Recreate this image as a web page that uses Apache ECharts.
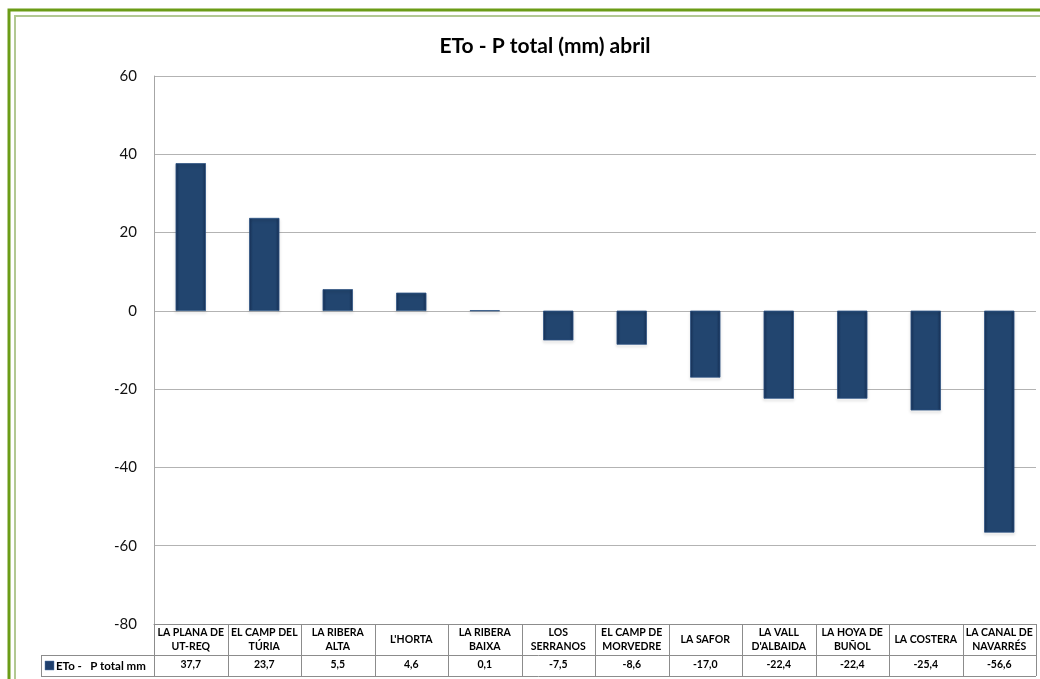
<!DOCTYPE html>
<html>
<head>
<meta charset="utf-8">
<script src="https://cdn.jsdelivr.net/npm/echarts@6/dist/echarts.min.js"></script>
<style>
  html, body { margin: 0; padding: 0; background: #fff; }
  #grafico { width: 1040px; height: 679px; }
</style>
</head>
<body>
<div id="grafico"></div>
<script>
// comarcas (texto de la tabla, con salto de línea como en el original)
const comarcas = [
    'LA PLANA DE\nUT-REQ', 'EL CAMP DEL\nTÚRIA', 'LA RIBERA\nALTA', "L'HORTA",
    'LA RIBERA\nBAIXA', 'LOS\nSERRANOS', 'EL CAMP DE\nMORVEDRE', 'LA SAFOR',
    'LA VALL\nD\'ALBAIDA', 'LA HOYA DE\nBUÑOL', 'LA COSTERA', 'LA CANAL DE\nNAVARRÉS'
];
const valores = [37.7, 23.7, 5.5, 4.6, 0.1, -7.5, -8.6, -17.0, -22.4, -22.4, -25.4, -56.6];
const nombreSerie = 'ETo -   P total mm';
const ticksY = [-80, -60, -40, -20, 0, 20, 40, 60];

const fuente = 'Lato, "Open Sans", sans-serif';
const colorBarra = '#1f3f6c';
const colorTabla = '#8c8c8c';

const formato = v => v.toFixed(1).replace('.', ',');

const chart = echarts.init(document.getElementById('grafico'));

chart.setOption({
    animation: false,
    title: {
        text: 'ETo - P total (mm) abril',
        left: 540, top: 31, textAlign: 'center',
        textStyle: { fontFamily: fuente, fontSize: 21, fontWeight: 'bold', color: '#000' }
    },
    grid: { left: 154, right: 4, top: 76, bottom: 55 },
    xAxis: [{
        type: 'category',
        data: comarcas,
        position: 'bottom',
        axisLine: { onZero: false, lineStyle: { color: colorTabla, width: 1 } },
        axisTick: { show: false },
        axisLabel: {
            interval: 0, margin: 16, verticalAlign: 'middle',
            fontFamily: fuente, fontSize: 10.5, fontWeight: 'bold', color: '#000', lineHeight: 14
        }
    }, {
        type: 'category',
        data: valores.map(formato),
        position: 'bottom',
        offset: 31,
        axisLine: { show: false },
        axisTick: { show: false },
        axisLabel: {
            interval: 0, margin: 10, verticalAlign: 'middle',
            fontFamily: fuente, fontSize: 10.5, fontWeight: 'bold', color: '#000'
        }
    }],
    yAxis: {
        type: 'value',
        min: ticksY[0], max: ticksY[ticksY.length - 1], interval: 20,
        axisLine: { show: true, lineStyle: { color: '#a6a6a6' } },
        axisTick: { show: false },
        axisLabel: { margin: 17, fontFamily: fuente, fontSize: 15, color: '#111' },
        splitLine: { lineStyle: { color: '#b3b3b3', width: 1 } }
    },
    series: [{
        name: nombreSerie,
        type: 'bar',
        xAxisIndex: 0,
        data: valores,
        barWidth: 30,
        itemStyle: {
            color: {
                type: 'linear', x: 0, y: 0, x2: 1, y2: 0,
                colorStops: [
                    { offset: 0, color: '#17335a' },
                    { offset: 0.12, color: '#22456f' },
                    { offset: 0.88, color: '#22456f' },
                    { offset: 1, color: '#17335a' }
                ]
            },
            borderColor: '#2d5282',
            borderWidth: 0.5,
            shadowColor: 'rgba(0,0,0,0.35)',
            shadowBlur: 3,
            shadowOffsetY: 2
        }
    }]
});

// tabla de datos y marco verde
function dibujarTabla() {
    const h = chart.getHeight();
    const yCat = h - 55;
    const yVal = yCat + 31;
    const yFin = yCat + 52;
    const xIni = 154;
    const xFin = chart.getWidth() - 4;
    const paso = (xFin - xIni) / comarcas.length;
    const lineas = [];
    const linea = (x1, y1, x2, y2) => lineas.push({
        type: 'line', silent: true, z: 10,
        shape: { x1, y1, x2, y2 },
        style: { stroke: colorTabla, lineWidth: 1 }
    });
    linea(41, yVal + 0.5, xFin, yVal + 0.5);
    linea(41, yFin + 0.5, xFin, yFin + 0.5);
    linea(41.5, yVal, 41.5, yFin);
    for (let i = 0; i <= comarcas.length; i++) {
        const x = Math.round(xIni + i * paso) + 0.5;
        linea(x, yCat, x, yFin);
    }
    lineas.push({
        type: 'rect', z: 10, silent: true,
        shape: { x: 45, y: yVal + 6, width: 9, height: 9 },
        style: { fill: colorBarra, stroke: '#5a7fae', lineWidth: 0.5 }
    });
    lineas.push({
        type: 'text', z: 10, silent: true,
        style: {
            x: 56, y: yVal + 11, text: nombreSerie, verticalAlign: 'middle',
            font: 'bold 11.5px ' + fuente, fill: '#000'
        }
    });
    // marco
    lineas.push({
        type: 'rect', z: 20, silent: true,
        shape: { x: 9, y: 10, width: 1200, height: 1000 },
        style: { fill: null, stroke: '#6b9c17', lineWidth: 3 }
    });
    lineas.push({
        type: 'rect', z: 20, silent: true,
        shape: { x: 15, y: 16, width: 1200, height: 1000 },
        style: { fill: null, stroke: '#b2c892', lineWidth: 2 }
    });
    chart.setOption({ graphic: lineas });
}

dibujarTabla();
window.addEventListener('resize', () => {
    chart.resize();
    dibujarTabla();
});
</script>
</body>
</html>
